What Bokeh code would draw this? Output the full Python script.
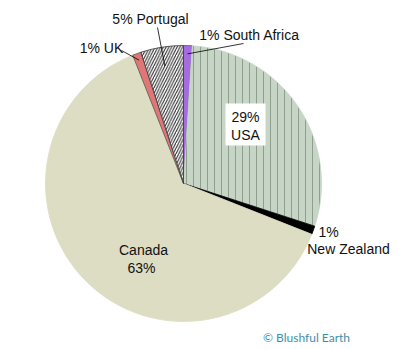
import numpy as np
from bokeh.plotting import figure
from bokeh.models import ColumnDataSource, Range1d
from bokeh.embed import file_html
from bokeh.resources import INLINE
from bokeh.core.properties import value

# ---- data (clockwise from 12 o'clock) ----
countries = ["South Africa", "USA", "New Zealand", "Canada", "UK", "Portugal"]
shares = [1, 29, 1, 63, 1, 5]
colors = ["#A66BE0", "#C6D5C6", "#000000", "#DDDDC4", "#E07676", "#FFFFFF"]
hatches = [" ", "vertical_line", " ", " ", " ", "right_diagonal_line"]
hatch_colors = ["#000000", "#8E9F8E", "#000000", "#000000", "#000000", "#222222"]
outline_colors = ["#555555", "#C6D5C6", "#000000", "#DDDDC4", "#555555", "#333333"]
credit = "\u00a9 Blushful Earth"

W, H = 400, 349
cx, cy, R = 183, H - 183, 138

frac = np.array(shares, dtype=float) / sum(shares)
cum = np.concatenate([[0], np.cumsum(frac)])
start = np.pi / 2 - cum[:-1] * 2 * np.pi
end = np.pi / 2 - cum[1:] * 2 * np.pi
mid = (start + end) / 2

src = ColumnDataSource(dict(
    country=countries, start=start, end=end, color=colors,
    hatch=hatches, hcol=hatch_colors, lcol=outline_colors,
    hscale=[6, 7, 6, 6, 6, 5.5],
))

p = figure(width=W, height=H, output_backend="svg", toolbar_location=None,
           x_range=Range1d(0, W), y_range=Range1d(0, H), min_border=0)
p.axis.visible = False
p.grid.visible = False
p.outline_line_color = None
p.background_fill_color = "white"
p.border_fill_color = "white"

p.wedge(x=cx, y=cy, radius=R, start_angle="start", end_angle="end",
        direction="clock", fill_color="color", line_color="lcol", line_width=0.8,
        hatch_pattern="hatch", hatch_color="hcol", hatch_scale="hscale",
        hatch_weight=1, source=src)

def px(y):
    return H - y

idx = {c: i for i, c in enumerate(countries)}

# leader lines: label end (pixel coords) -> point inside slice
leaders = [("UK", (121, 50), 0.95), ("Portugal", (157, 27), 0.86),
           ("South Africa", (243, 43), 0.94)]
xs, ys = [], []
for name, (lx, ly), rf in leaders:
    a = mid[idx[name]]
    xs.append([lx, cx + rf * R * np.cos(a)])
    ys.append([px(ly), cy + rf * R * np.sin(a)])
p.multi_line(xs, ys, line_color="black", line_width=0.8)

# white box behind USA label
p.rect(x=[245], y=[px(124)], width=40, height=42, fill_color="white", line_color=None)

def pct(name):
    return f"{shares[idx[name]]}%"

labels = [
    (f"{pct('Portugal')} Portugal", 150, 18),
    (f"{pct('UK')} UK", 101, 47),
    (f"{pct('South Africa')} South Africa", 249, 34),
    (pct('USA'), 245, 116),
    ("USA", 245, 134),
    (pct('New Zealand'), 328, 231),
    ("New Zealand", 348, 248),
    ("Canada", 143, 249),
    (pct('Canada'), 141, 267),
]
p.text(x=[l[1] for l in labels], y=[px(l[2]) for l in labels], text=[l[0] for l in labels],
       text_align="center", text_baseline="middle", text_font=value("Liberation Sans"),
       text_font_size="14px", text_color="#111111")

p.text(x=[306], y=[px(337)], text=[credit], text_align="center", text_baseline="middle",
       text_font=value("Lato"), text_font_size="12px", text_color="#3F8FA8")

open("out.html", "w").write(file_html(p, INLINE))
